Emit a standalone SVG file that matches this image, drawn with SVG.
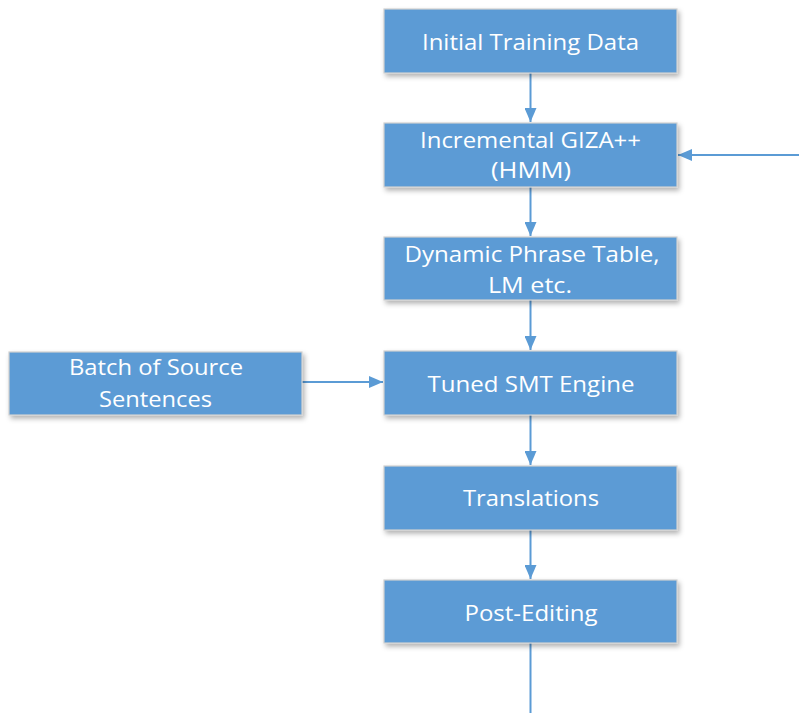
<svg xmlns="http://www.w3.org/2000/svg" width="799" height="713" viewBox="0 0 799 713">
<style>
.box{fill:#5B9BD5;stroke:#D0D0D0;stroke-width:1.2;filter:url(#sh)}
.t{font-family:"Open Sans","Noto Sans",sans-serif;font-size:22px;fill:#fff;text-anchor:middle}
.c{stroke:#5B9BD5;stroke-width:2;fill:none}
</style>
<defs>
<filter id="sh" x="-10%" y="-20%" width="125%" height="150%">
<feDropShadow dx="2" dy="3" stdDeviation="2.5" flood-color="#000" flood-opacity="0.3"/>
</filter>
<marker id="ah" markerWidth="14" markerHeight="12" refX="14" refY="6" orient="auto" markerUnits="userSpaceOnUse">
<path d="M0,0 L14,6 L0,12 Z" fill="#5B9BD5"/>
</marker>
</defs>
<g id="connectors">
<line class="c" x1="530.5" y1="73" x2="530.5" y2="122" marker-end="url(#ah)"/>
<line class="c" x1="530.5" y1="187" x2="530.5" y2="236" marker-end="url(#ah)"/>
<line class="c" x1="530.5" y1="300" x2="530.5" y2="350" marker-end="url(#ah)"/>
<line class="c" x1="530.5" y1="415" x2="530.5" y2="465" marker-end="url(#ah)"/>
<line class="c" x1="530.5" y1="530" x2="530.5" y2="579" marker-end="url(#ah)"/>
<line class="c" x1="530.5" y1="643" x2="530.5" y2="713"/>
<line class="c" x1="799" y1="155" x2="678" y2="155" marker-end="url(#ah)"/>
<line class="c" x1="302" y1="382" x2="383" y2="382" marker-end="url(#ah)"/>
</g>
<g id="n1"><rect class="box" x="384" y="9" width="293" height="64"/>
<text class="t" x="530.5" y="50" textLength="217" lengthAdjust="spacingAndGlyphs">Initial Training Data</text></g>
<g id="n2"><rect class="box" x="384" y="123" width="293" height="64"/>
<text class="t" x="530.5" y="148" textLength="221" lengthAdjust="spacingAndGlyphs">Incremental GIZA++</text>
<text class="t" x="531" y="178" textLength="80" lengthAdjust="spacingAndGlyphs">(HMM)</text></g>
<g id="n3"><rect class="box" x="384" y="237" width="293" height="63"/>
<text class="t" x="532" y="262" textLength="255" lengthAdjust="spacingAndGlyphs">Dynamic Phrase Table,</text>
<text class="t" x="530" y="293" textLength="84" lengthAdjust="spacingAndGlyphs">LM etc.</text></g>
<g id="n4"><rect class="box" x="384" y="351" width="293" height="64"/>
<text class="t" x="531" y="392" textLength="207" lengthAdjust="spacingAndGlyphs">Tuned SMT Engine</text></g>
<g id="n5"><rect class="box" x="384" y="466" width="293" height="64"/>
<text class="t" x="531" y="506" textLength="136" lengthAdjust="spacingAndGlyphs">Translations</text></g>
<g id="n6"><rect class="box" x="384" y="580" width="293" height="63"/>
<text class="t" x="531" y="621" textLength="133" lengthAdjust="spacingAndGlyphs">Post-Editing</text></g>
<g id="n7"><rect class="box" x="9" y="352" width="293" height="63"/>
<text class="t" x="156" y="375" textLength="174" lengthAdjust="spacingAndGlyphs">Batch of Source</text>
<text class="t" x="155.5" y="407" textLength="113" lengthAdjust="spacingAndGlyphs">Sentences</text></g>
</svg>
